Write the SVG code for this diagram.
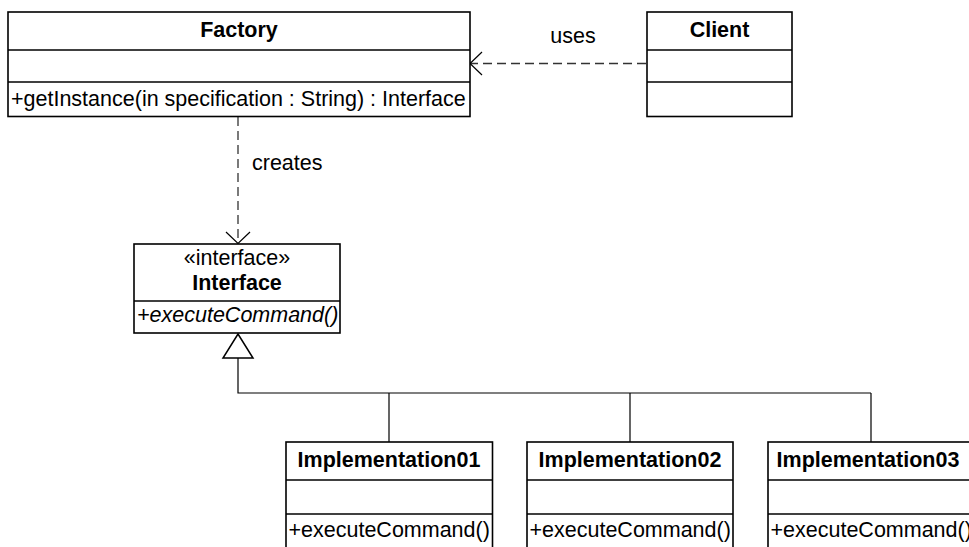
<svg xmlns="http://www.w3.org/2000/svg" width="969" height="547" viewBox="0 0 969 547">
<style>
.box{fill:#fff;stroke:#000;stroke-width:1.6}
.div{stroke:#000;stroke-width:1.6}
.t{font-family:"Liberation Sans",Arial,sans-serif;font-size:21.5px;fill:#000}
.b{font-weight:bold}
.c{text-anchor:middle}
.dash{fill:none;stroke:#333;stroke-width:1.3;stroke-dasharray:9,5}
.ln{fill:none;stroke:#000;stroke-width:1.2}
.tri{fill:#fff;stroke:#000;stroke-width:1.5}
</style>
<rect width="969" height="547" fill="#fff"/>
<g id="connectors">
<path class="dash" d="M646,63.5 H471"/>
<path class="ln" d="M482,52 L470,63.5 L482,75"/>
<text class="t c" x="573" y="43">uses</text>
<path class="dash" d="M238,117 V242"/>
<path class="ln" d="M226,232 L238,243.5 L250,232"/>
<text class="t" x="252" y="170">creates</text>
<path class="ln" d="M238,358 V393 H871 M389,393 V442 M630,393 V442 M871,393 V442"/>
<path class="tri" d="M238,334 L253,358 L223,358 Z"/>
</g>
<g id="factory">
<rect class="box" x="8" y="12" width="462" height="104.5"/>
<line class="div" x1="8" y1="50" x2="470" y2="50"/>
<line class="div" x1="8" y1="82" x2="470" y2="82"/>
<text class="t b c" x="239" y="37">Factory</text>
<text class="t" x="11" y="106">+getInstance(in specification : String) : Interface</text>
</g>
<g id="client">
<rect class="box" x="647" y="12" width="145" height="104.5"/>
<line class="div" x1="647" y1="50" x2="792" y2="50"/>
<line class="div" x1="647" y1="82" x2="792" y2="82"/>
<text class="t b c" x="719.5" y="37">Client</text>
</g>
<g id="interface">
<rect class="box" x="134" y="244" width="206" height="89"/>
<line class="div" x1="134" y1="301" x2="340" y2="301"/>
<text class="t c" x="237" y="265">«interface»</text>
<text class="t b c" x="237" y="290">Interface</text>
<text class="t" x="137" y="322" font-style="italic">+executeCommand()</text>
</g>
<g id="impl01">
<rect class="box" x="286" y="442" width="206.5" height="120"/>
<line class="div" x1="286" y1="480" x2="492.5" y2="480"/>
<line class="div" x1="286" y1="514" x2="492.5" y2="514"/>
<text class="t b c" x="389" y="467">Implementation01</text>
<text class="t" x="288.5" y="537">+executeCommand()</text>
</g>
<g id="impl02">
<rect class="box" x="527" y="442" width="206" height="120"/>
<line class="div" x1="527" y1="480" x2="733" y2="480"/>
<line class="div" x1="527" y1="514" x2="733" y2="514"/>
<text class="t b c" x="630" y="467">Implementation02</text>
<text class="t" x="529.5" y="537">+executeCommand()</text>
</g>
<g id="impl03">
<rect class="box" x="768" y="442" width="206" height="120"/>
<line class="div" x1="768" y1="480" x2="974" y2="480"/>
<line class="div" x1="768" y1="514" x2="974" y2="514"/>
<text class="t b c" x="868" y="467">Implementation03</text>
<text class="t" x="770.5" y="537">+executeCommand()</text>
</g>
</svg>
